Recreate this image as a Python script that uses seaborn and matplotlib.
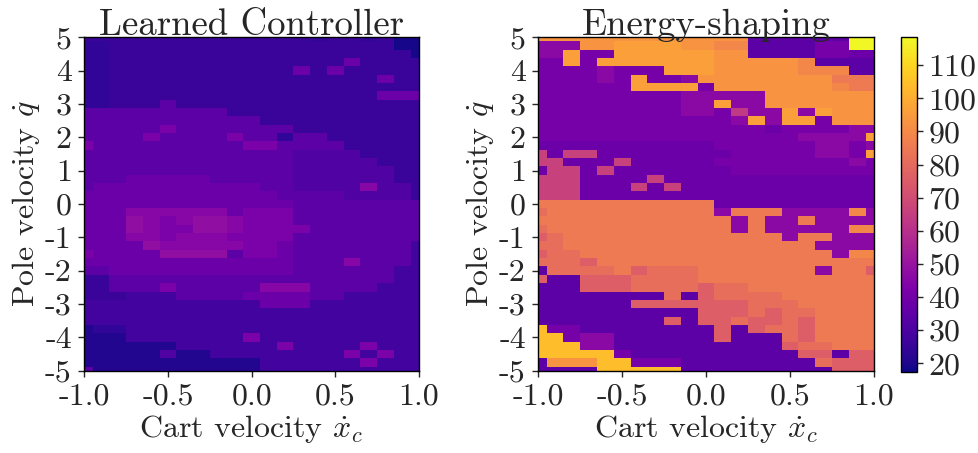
import numpy as np
import pandas as pd
import matplotlib
matplotlib.use("Agg")
import matplotlib.pyplot as plt
import seaborn as sns

# griglia: velocita' del carrello (colonne) e del polo (righe, dall'alto)
cart_vel = [-1.0, -0.9, -0.8, -0.7, -0.6, -0.5, -0.4, -0.3, -0.2, -0.1, 0.0,
            0.1, 0.2, 0.3, 0.4, 0.5, 0.6, 0.7, 0.8, 0.9, 1.0]
pole_vel = [5.0, 4.75, 4.5, 4.25, 4.0, 3.75, 3.5, 3.25, 3.0, 2.75, 2.5,
            2.25, 2.0, 1.75, 1.5, 1.25, 1.0, 0.75, 0.5, 0.25, 0.0,
            -0.25, -0.5, -0.75, -1.0, -1.25, -1.5, -1.75, -2.0, -2.25, -2.5,
            -2.75, -3.0, -3.25, -3.5, -3.75, -4.0, -4.25, -4.5, -4.75, -5.0]

# livelli (un carattere = un valore)
LEVELS = {
    'a': 19, 'b': 21, 'c': 24, 'd': 26, 'e': 28, 'f': 31, 'g': 34,
    'h': 38, 'i': 42, 'j': 45, 'k': 48,
    'P': 34, 'p': 38, 'q': 41, 'r': 46, 'm': 63, 'n': 66, 'o': 76,
    'u': 81, 'v': 85, 'w': 89, 'x': 93, 'y': 96, 'Y': 104, 'Z': 118,
}

learned_rows = [
    "ddddddddddddddcddcdaa",
    "ccdddddddddddddddddaa",
    "ccdddddddddddddddddda",
    "ccddddddddddddddhdddd",
    "ccdddddddddddhdhddddd",
    "ccddddddddddddddddhdd",
    "ccddddddddddddddddddd",
    "ccddddddddddddddddhhh",
    "ccdddgddddddddddddddd",
    "gggggggggdddddddddddd",
    "gggggggggggdddddddddd",
    "gggggigggggggdddddddd",
    "ggggiggggiggcggdddddd",
    "igggggggggiiggggddddd",
    "gggggggggggggffffdddd",
    "gggggggggggggfffffddd",
    "gggggggggggggffffffdd",
    "ggghhhhhgggggffffffdd",
    "ghhhhhhhhhhggffffjffd",
    "hhhhhhhhhhhhggggffffd",
    "hhhhhhhhhhhhhgggggggg",
    "hhhjjjjjjhiiigggggggg",
    "hhhkjijkkjiiigggggggg",
    "hhhkjiikkjiiiiggggggg",
    "hhhjjijjjiiiigggggggg",
    "hhhhkjjjjjiihggggggge",
    "ihhhhkkkkgiihggggggge",
    "hhhhhhhhhhhhhgggjggge",
    "gghhhhhhhhhhhggggggee",
    "ddgggggggggggggggggee",
    "ddgggigggggjjjggggeee",
    "dddeeegggghhhhggeeeee",
    "eeeeeeeeeeehhheeeeeee",
    "eeeeeeeeeeeeeeeeeeeee",
    "eeeeeeeeeeeeeeeeeeeee",
    "bcceeeeeeeeeeeeeeeeee",
    "bbbeeeeeeeieeeeeeeeee",
    "bbbbbbeeeeeeieeeeieee",
    "bbbbbfbbeeeeeeeeieiee",
    "bbbbbbbbbbbeeeeeeieee",
    "gbbbbbbbbbbeeeeeeeeee",
]

energy_rows = [
    "xxxxxxxxxxxxxPPPPPPZZ",
    "rrrxxyyyyxxwwPPPPqqZZ",
    "rryqqyyyyyyxxPPPPqqpp",
    "qqyqyyyyyyyxxxxxwPPPP",
    "qqqqrqqqyyyxxxxxwwwPP",
    "qqqqrqyqqrxxxxxxxxvvv",
    "qqqqqqyyyyqxxxxxxxwvv",
    "qqqqqqqqqrrrrrxxxxxxx",
    "qqqqqqqqqrryrrxxxxxxx",
    "qqqqqqqqqrrqmrryryxxx",
    "qqqqqqqqqqqqryryyqxxx",
    "qqqqqqqqqqqqqqpqqqqrr",
    "qqqqqqqqqqqqqqqqrrrry",
    "pppppppppppqqqqqqrrqr",
    "npnnppppppppqqqqqrrqy",
    "nnpppnpppppqqqqqqqqrq",
    "pnnpnpppppppqqqqqqqqq",
    "nnnppppnppppppppppppp",
    "nnnpppnpnpppppppppppp",
    "nnnpppppppppppppppppp",
    "vvvvvvvvvvvpppppppppp",
    "uvvvvvvvvvvrvvvrrrrwr",
    "vvvvvvvvvvvvrvrrvrrrr",
    "uvvvvvvvvvvvrvrrrrrww",
    "ouvvvvvvvvvvvvvrvvrrr",
    "uuvvvvvvvvvvvvvvvrrrr",
    "ouuvvvvvvvvvvvvvvvrww",
    "uuuovvvvvvvvvvvvvvvvv",
    "Puuuuvouuuvvvvvvvrvvo",
    "oPPooouuuuvvvvvvvvvvv",
    "PPPooouuuuouuvvvvvvvv",
    "PPPPPPPPuPouuuuvvvvvv",
    "PPPPPPooooooouuuvvvvv",
    "PPPPPPPPPPooououuvvvv",
    "PPPPPPPPoPoouoouovvvv",
    "YqqPPPPPPPPoPouuovvvv",
    "YYqrrPPPPPPoPPPuovvvv",
    "YYYrrPPPPPPPPPPouuvvv",
    "YYYYYqPPPPPPPPPPooPoo",
    "PxxxYYqqqPPPPPPPPuooo",
    "PPPPYYYYYPPPPPPPPPooo",
]

x_ticks = [-1.0, -0.5, 0.0, 0.5, 1.0]
y_ticks = [5, 4, 3, 2, 1, 0, -1, -2, -3, -4, -5]
cbar_ticks = [20, 30, 40, 50, 60, 70, 80, 90, 100, 110]
vmin, vmax = 17.5, 118.4


def to_frame(rows):
    vals = np.array([[LEVELS[c] for c in r] for r in rows], dtype=float)
    return pd.DataFrame(vals, index=pole_vel, columns=cart_vel)


sns.set_style("white")
plt.rcParams['font.family'] = 'serif'
plt.rcParams['font.serif'] = ['cmr10', 'DejaVu Serif']
plt.rcParams['mathtext.fontset'] = 'cm'
plt.rcParams['axes.unicode_minus'] = False
plt.rcParams['axes.formatter.use_mathtext'] = True

fig = plt.figure(figsize=(9.79, 4.53), dpi=100)
ax1 = fig.add_axes([0.0861, 0.1817, 0.3419, 0.736])
ax2 = fig.add_axes([0.5498, 0.1817, 0.3429, 0.736])
cax = fig.add_axes([0.9203, 0.1795, 0.016, 0.738])

panels = [(ax1, learned_rows, "Learned Controller"),
          (ax2, energy_rows, "Energy-shaping")]

for ax, rows, title in panels:
    df = to_frame(rows)
    sns.heatmap(df, ax=ax, cmap='plasma', vmin=vmin, vmax=vmax,
                cbar=(ax is ax2), cbar_ax=cax if ax is ax2 else None,
                xticklabels=False, yticklabels=False)
    ax.set_xlim(0.5, len(cart_vel) - 0.5)
    ax.set_ylim(len(pole_vel) - 0.5, 0.5)
    ax.set_xticks([cart_vel.index(v) + 0.5 for v in x_ticks])
    ax.set_xticklabels([f"{v:.1f}" for v in x_ticks])
    ax.set_yticks([pole_vel.index(float(v)) + 0.5 for v in y_ticks])
    ax.set_yticklabels([str(v) for v in y_ticks], rotation=0)
    ax.tick_params(axis='both', labelsize=23, length=4, width=1,
                   pad=5, direction='out', bottom=True, left=True)
    for sp in ax.spines.values():
        sp.set_visible(True)
        sp.set_color('black')
        sp.set_linewidth(1.0)
    ax.set_title(title, fontsize=26.5, pad=2)
    ax.set_xlabel(r"Cart velocity $\dot{x}_c$", fontsize=23, labelpad=2)
    ax.set_ylabel(r"Pole velocity $\dot{q}$", fontsize=23, labelpad=2)

cbar = ax2.collections[0].colorbar
cbar.set_ticks(cbar_ticks)
cbar.ax.tick_params(labelsize=23, length=4, width=1, pad=4)
cbar.outline.set_visible(True)
cbar.outline.set_edgecolor('black')
cbar.outline.set_linewidth(1.0)

fig.savefig("out.png", dpi=100, facecolor='white')
